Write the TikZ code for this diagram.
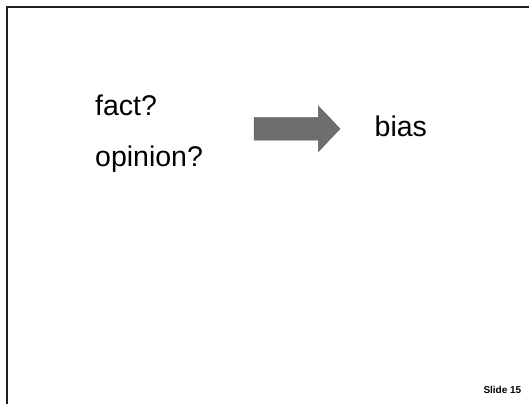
\documentclass[tikz,border=0pt]{standalone}
\usepackage{fontspec}
\setmainfont{Liberation Sans}
\begin{document}
\begin{tikzpicture}[x=1pt,y=-1pt,
  label28/.style={anchor=base west,inner sep=0pt,font=\fontsize{28.5}{32}\selectfont},
  slidenum/.style={anchor=base west,inner sep=0pt,font=\fontsize{10}{12}\selectfont\bfseries},
  frameline/.style={draw=black!88,line width=2pt},
  blockarrow/.style={fill=black!57,draw=black!62,line width=0.5pt}]
\useasboundingbox (0,0) rectangle (529,404);
\fill[white] (0,0) rectangle (529,404);
\draw[frameline] (7,404) -- (7,7) -- (529,7);
\node[label28] (fact) at (95,115.7) {fact?};
\node[label28] (opinion) at (95,166.5) {opinion?};
\node[label28] (bias) at (374.5,136.5) {bias};
\draw[blockarrow] (254,117.7) -- (318.3,117.7) -- (318.3,106) -- (340,128.8) -- (318.3,151.6) -- (318.3,140) -- (254,140) -- cycle;
\node[slidenum] (slide) at (483.3,393.3) {Slide 15};
\end{tikzpicture}
\end{document}
